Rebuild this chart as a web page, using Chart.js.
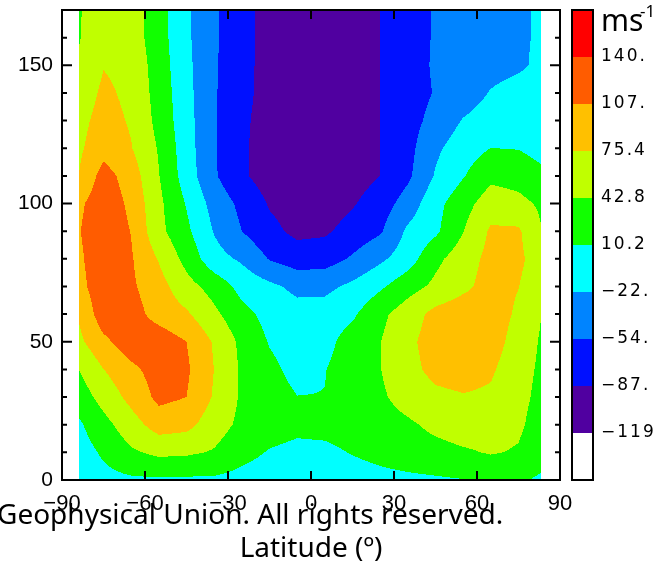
<!DOCTYPE html>
<html>
<head>
<meta charset="utf-8">
<script src="https://cdn.jsdelivr.net/npm/chart.js@4.4.0/dist/chart.umd.min.js"></script>
<style>
  html, body { margin: 0; padding: 0; background: #fff; }
  #wrap { position: relative; width: 663px; height: 564px; }
</style>
</head>
<body>
<div id="wrap"><canvas id="windChart"></canvas></div>
<script>
// Zonal wind (m/s) on a latitude x altitude grid
const latitudes = [-84, -75, -65, -55, -45, -35, -25, -15, -5, 5, 15, 25, 35, 45, 55, 65, 75, 83];
const altitudes = [0, 10, 20, 30, 40, 50, 60, 70, 80, 90, 100, 110, 120, 130, 140, 150, 160, 170];

// one row per altitude, bottom (0) to top (170)
const windField = [
  [-10, 0, 5, 6, 5, 5, 0, -5, -10, -8, -5, 0, 3, 6, 9, 18, 15, 5],
  [-5, 15, 38, 50, 48, 40, 20, 8, 2, 3, 12, 20, 28, 33, 39, 45, 40, 25],
  [5, 32, 62, 90, 85, 58, 35, 24, 18, 20, 25, 30, 38, 50, 58, 58, 48, 30],
  [25, 55, 85, 115, 107, 72, 38, 25, 10.8, 11, 25, 38, 55, 68, 73, 70, 52, 35],
  [43, 75, 100, 120, 112, 75, 38, 18, 0, 9, 28, 42, 65, 85, 90, 80, 55, 38],
  [68, 100, 125, 125, 107, 72, 35, 8, -5, 0, 25, 42, 68, 90, 98, 90, 62, 40],
  [78, 125, 120, 95, 80, 50, 20, 0, -10, -8, 5, 35, 60, 85, 95, 92, 70, 44],
  [95, 130, 112, 88, 55, 30, 0, -15, -30, -30, -15, 5, 30, 50, 68, 88, 76, 55],
  [100, 132, 110, 73, 32, -10, -27, -56, -70, -68, -50, -28, -5, 35, 60, 85, 82, 60],
  [105, 130, 106, 52, 17, -24, -54, -78, -95, -92, -74, -58, -16, 4, 42, 80, 80, 45],
  [100, 128, 100, 50, 8, -34, -62, -90, -102, -105, -90, -70, -40, 0, 30, 60, 52, 38],
  [75, 120, 92, 44, -5, -50, -82, -102, -112, -112, -102, -87, -60, -19, 8, 35, 30, 18],
  [70, 95, 77, 40, -8, -51, -82, -102, -112, -112, -102, -87, -64, -28, -5, 10.5, 9, 0],
  [65, 88, 72, 33, -10, -51, -80, -102, -112, -112, -102, -87, -66, -44, -20, -8, -3, 0],
  [55, 82, 68, 30, -12, -51, -77, -100, -110, -110, -100, -87, -68, -52, -38, -20, -10, -5],
  [45, 74, 66, 27, -14, -50, -76, -100, -110, -110, -100, -87, -68, -50, -42, -33, -27, -16],
  [41, 62, 60, 24, -16, -50, -75, -100, -108, -108, -100, -87, -68, -51, -44, -36, -27, -18],
  [40, 62, 60, 24, -16, -50, -75, -100, -108, -108, -100, -87, -68, -51, -44, -36, -27, -18]
];

const contourLevels = [-119, -87, -54, -22, 10.2, 42.8, 75.4, 107, 140];
const levelLabels = ['\u2212119', '\u221287.', '\u221254.', '\u221222.', '10.2', '42.8', '75.4', '107.', '140.'];
const levelColors = ['#ffffff', '#5000a0', '#0010ff', '#0084ff', '#00ffff', '#11ff00', '#c0ff00', '#ffc000', '#ff5c00', '#ff0000'];

const xTicks = [-90, -60, -30, 0, 30, 60, 90];
const yTicks = [0, 50, 100, 150];
const yMinorTicks = [10, 20, 30, 40, 60, 70, 80, 90, 110, 120, 130, 140, 160];

function findCell(arr, v) {
  for (let i = 0; i < arr.length - 2; i++) {
    if (v < arr[i + 1]) return i;
  }
  return arr.length - 2;
}

function windAt(lat, alt) {
  const i = findCell(latitudes, lat);
  const j = findCell(altitudes, alt);
  const tx = Math.min(1, Math.max(0, (lat - latitudes[i]) / (latitudes[i + 1] - latitudes[i])));
  const ty = Math.min(1, Math.max(0, (alt - altitudes[j]) / (altitudes[j + 1] - altitudes[j])));
  const r0 = windField[j], r1 = windField[j + 1];
  const a = r0[i] + (r0[i + 1] - r0[i]) * tx;
  const b = r1[i] + (r1[i + 1] - r1[i]) * tx;
  return a + (b - a) * ty;
}

function levelIndex(v) {
  let k = 0;
  while (k < contourLevels.length && v >= contourLevels[k]) k++;
  return k;
}

function hexToRgb(h) {
  return [parseInt(h.slice(1, 3), 16), parseInt(h.slice(3, 5), 16), parseInt(h.slice(5, 7), 16)];
}

// filled contours, one pixel at a time through the chart scales
const contourFill = {
  id: 'contourFill',
  beforeDatasetsDraw(chart) {
    const { ctx, scales: { x, y } } = chart;
    const x0 = Math.round(x.getPixelForValue(latitudes[0]));
    const x1 = Math.round(x.getPixelForValue(latitudes[latitudes.length - 1]));
    const y0 = Math.round(y.getPixelForValue(altitudes[altitudes.length - 1]));
    const y1 = Math.round(y.getPixelForValue(altitudes[0]));
    const w = x1 - x0, h = y1 - y0;
    const img = ctx.createImageData(w, h);
    const rgb = levelColors.map(hexToRgb);
    for (let py = 0; py < h; py++) {
      const alt = y.getValueForPixel(y0 + py + 0.5);
      for (let px = 0; px < w; px++) {
        const lat = x.getValueForPixel(x0 + px + 0.5);
        const c = rgb[levelIndex(windAt(lat, alt))];
        const o = (py * w + px) * 4;
        img.data[o] = c[0];
        img.data[o + 1] = c[1];
        img.data[o + 2] = c[2];
        img.data[o + 3] = 255;
      }
    }
    ctx.putImageData(img, x0, y0);
  }
};

// box, inward ticks, colour bar and the overlaid caption
const axisFrame = {
  id: 'axisFrame',
  afterDraw(chart) {
    const { ctx, chartArea: a, scales: { x, y } } = chart;
    ctx.save();
    ctx.strokeStyle = '#000';
    ctx.lineWidth = 2;
    ctx.strokeRect(a.left, a.top, a.right - a.left, a.bottom - a.top);

    ctx.beginPath();
    xTicks.forEach(v => {
      const px = x.getPixelForValue(v);
      ctx.moveTo(px, a.bottom); ctx.lineTo(px, a.bottom - 9);
      ctx.moveTo(px, a.top); ctx.lineTo(px, a.top + 9);
    });
    yTicks.forEach(v => {
      const py = y.getPixelForValue(v);
      ctx.moveTo(a.left, py); ctx.lineTo(a.left + 10, py);
      ctx.moveTo(a.right, py); ctx.lineTo(a.right - 10, py);
    });
    yMinorTicks.forEach(v => {
      const py = y.getPixelForValue(v);
      ctx.moveTo(a.left, py); ctx.lineTo(a.left + 5, py);
      ctx.moveTo(a.right, py); ctx.lineTo(a.right - 5, py);
    });
    ctx.stroke();

    // colour bar
    const bx = a.right + 12, bw = 21;
    const seg = (a.bottom - a.top) / levelColors.length;
    levelColors.forEach((c, k) => {
      ctx.fillStyle = c;
      ctx.fillRect(bx, a.bottom - (k + 1) * seg, bw, seg);
    });
    ctx.strokeRect(bx, a.top, bw, a.bottom - a.top);

    ctx.fillStyle = '#000';
    ctx.textAlign = 'left';
    ctx.textBaseline = 'middle';
    ctx.font = '17px "DejaVu Sans"';
    ctx.letterSpacing = '2px';
    levelLabels.forEach((t, k) => {
      ctx.fillText(t, bx + bw + 8, a.bottom - (k + 1) * seg);
    });
    ctx.letterSpacing = '0px';
    ctx.textBaseline = 'alphabetic';
    ctx.font = '30px "Noto Sans"';
    ctx.fillText('ms', bx + bw + 8, 31);
    ctx.font = '17px "Noto Sans"';
    ctx.fillText('-1', bx + bw + 47, 17);

    ctx.font = '28px "Noto Sans"';
    ctx.fillText('Geophysical Union. All rights reserved.', -3, 524);
    ctx.restore();
  }
};

new Chart(document.getElementById('windChart'), {
  type: 'scatter',
  data: { datasets: [{ data: [], pointRadius: 0 }] },
  options: {
    responsive: true,
    maintainAspectRatio: false,
    animation: false,
    devicePixelRatio: 1,
    layout: { padding: { left: 0, right: 103, top: 10, bottom: 0 } },
    plugins: { legend: { display: false }, tooltip: { enabled: false } },
    scales: {
      x: {
        type: 'linear',
        min: -90,
        max: 90,
        grid: { display: false, drawTicks: false },
        border: { display: false },
        afterBuildTicks: s => { s.ticks = xTicks.map(v => ({ value: v })); },
        afterFit: s => { s.height = 84; s.paddingLeft = 0; s.paddingRight = 0; },
        ticks: {
          color: '#000',
          font: { family: 'Liberation Sans', size: 22 },
          padding: 11,
          maxRotation: 0,
          autoSkip: false,
          callback: v => (v < 0 ? '\u2212' + Math.abs(v) : String(v))
        },
        title: {
          display: true,
          text: 'Latitude (º)',
          color: '#000',
          font: { family: 'Noto Sans', size: 28 },
          padding: { top: 0, bottom: -2 }
        }
      },
      y: {
        type: 'linear',
        min: 0,
        max: 170,
        grid: { display: false, drawTicks: false },
        border: { display: false },
        afterBuildTicks: s => { s.ticks = yTicks.map(v => ({ value: v })); },
        afterFit: s => { s.width = 62; s.paddingTop = 0; s.paddingBottom = 0; },
        ticks: {
          color: '#000',
          font: { family: 'Liberation Sans', size: 21 },
          padding: 9
        }
      }
    }
  },
  plugins: [contourFill, axisFrame]
});
</script>
</body>
</html>
